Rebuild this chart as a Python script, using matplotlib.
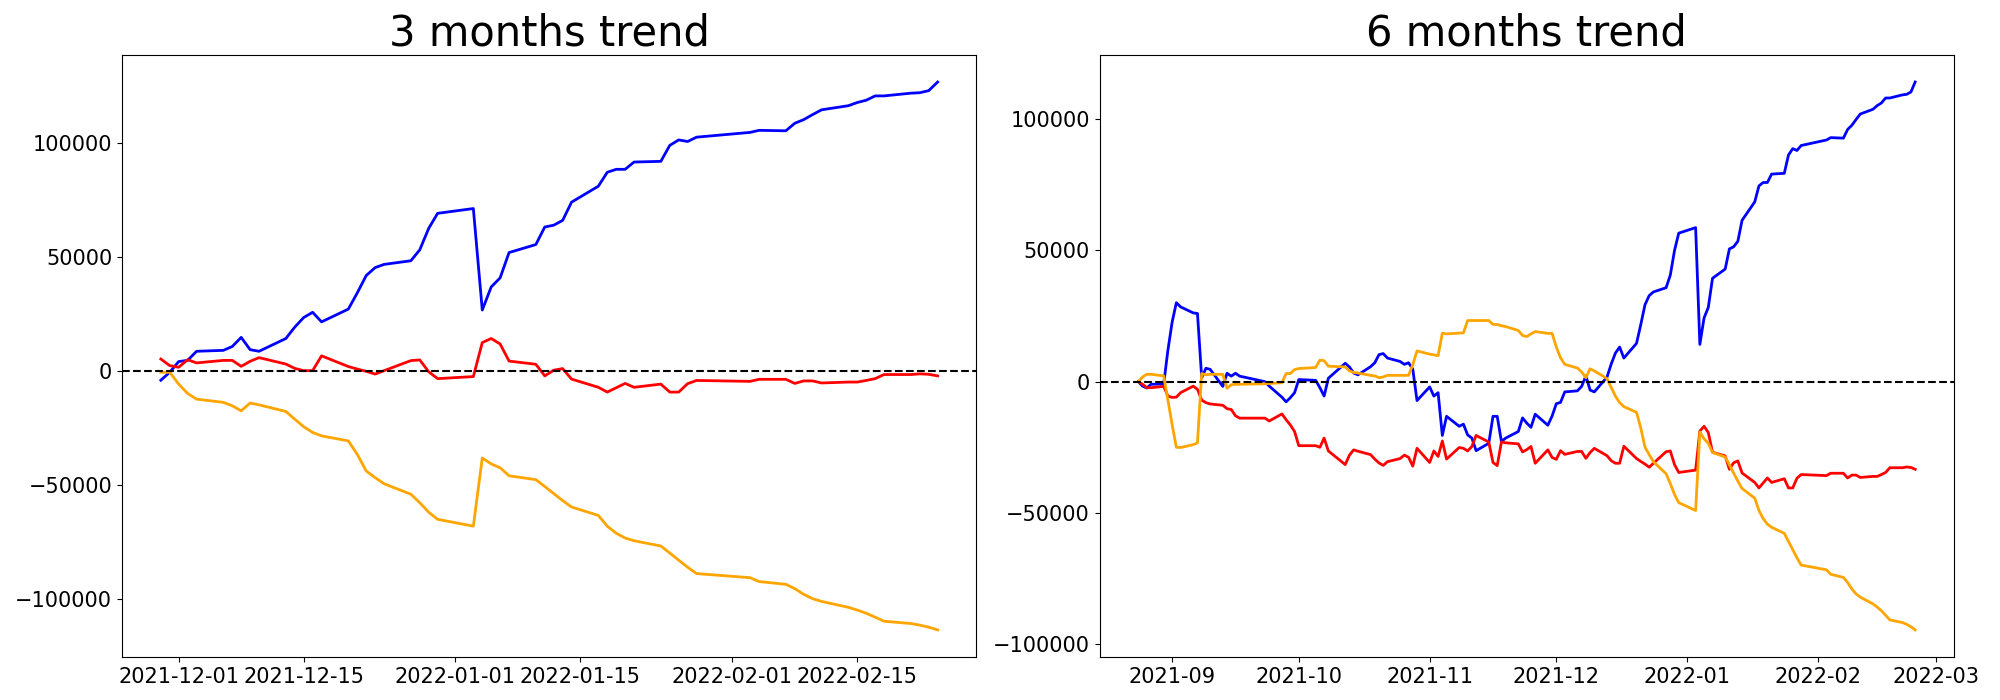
import pandas as pd
import matplotlib
matplotlib.use("Agg")
import matplotlib.pyplot as plt

# 3 months: trading days and cumulative values
dates_3m = [
    "2021-11-29", "2021-11-30", "2021-12-01", "2021-12-02", "2021-12-03",
    "2021-12-06", "2021-12-07", "2021-12-08", "2021-12-09", "2021-12-10",
    "2021-12-13", "2021-12-14", "2021-12-15", "2021-12-16", "2021-12-17",
    "2021-12-20", "2021-12-21", "2021-12-22", "2021-12-23", "2021-12-24",
    "2021-12-27", "2021-12-28", "2021-12-29", "2021-12-30",
    "2022-01-03", "2022-01-04", "2022-01-05", "2022-01-06", "2022-01-07",
    "2022-01-10", "2022-01-11", "2022-01-12", "2022-01-13", "2022-01-14",
    "2022-01-17", "2022-01-18", "2022-01-19", "2022-01-20", "2022-01-21",
    "2022-01-24", "2022-01-25", "2022-01-26", "2022-01-27", "2022-01-28",
    "2022-02-03", "2022-02-04",
    "2022-02-07", "2022-02-08", "2022-02-09", "2022-02-10", "2022-02-11",
    "2022-02-14", "2022-02-15", "2022-02-16", "2022-02-17", "2022-02-18",
    "2022-02-21", "2022-02-22", "2022-02-23", "2022-02-24",
]
blue_3m = [
    -4200, -700, 4000, 4500, 8500,
    8900, 10600, 14600, 9200, 8500,
    14100, 19100, 23300, 25600, 21400,
    27000, 34100, 41700, 45200, 46600,
    48200, 53000, 62400, 69000,
    71100, 26600, 36700, 40700, 51800,
    55300, 63000, 63800, 65900, 73900,
    80900, 87000, 88300, 88300, 91500,
    91800, 98800, 101200, 100500, 102400,
    104500, 105400,
    105200, 108500, 110100, 112300, 114400,
    116200, 117600, 118600, 120500, 120500,
    121700, 121900, 122800, 126600,
]
red_3m = [
    5100, 2200, 1500, 4800, 3400,
    4500, 4500, 1900, 4100, 5700,
    2900, 1000, 0, 0, 6500,
    1800, 700, -300, -1500, 0,
    4400, 4700, -500, -3500,
    -2600, 12300, 14100, 11700, 4200,
    2800, -2300, 200, 900, -3700,
    -7300, -9400, -7500, -5600, -7300,
    -5900, -9400, -9400, -5700, -4300,
    -4700, -3800,
    -3800, -5600, -4500, -4500, -5400,
    -5000, -5000, -4300, -3500, -1700,
    -1700, -1400, -1600, -2300,
]
orange_3m = [
    -700, -700, -5900, -10000, -12500,
    -13900, -15400, -17600, -14200, -15000,
    -17900, -21300, -24600, -27100, -28600,
    -30800, -36700, -44000, -46900, -49600,
    -54200, -57900, -62100, -65200,
    -68200, -38300, -40900, -42600, -46100,
    -47800, -50800, -53900, -57000, -59800,
    -63500, -68200, -71300, -73400, -74600,
    -76900, -80000, -83100, -86200, -89000,
    -90800, -92500,
    -93700, -95600, -98100, -100000, -101200,
    -103800, -105000, -106400, -108100, -109900,
    -110900, -111600, -112500, -113700,
]

# 6 months: trading days and cumulative values
dates_6m = [
    "2021-08-24", "2021-08-25", "2021-08-26", "2021-08-27",
    "2021-08-30", "2021-08-31", "2021-09-01", "2021-09-02", "2021-09-03",
    "2021-09-06", "2021-09-07", "2021-09-08", "2021-09-09", "2021-09-10",
    "2021-09-13", "2021-09-14", "2021-09-15", "2021-09-16", "2021-09-17",
    "2021-09-23", "2021-09-24",
    "2021-09-27", "2021-09-28", "2021-09-29", "2021-09-30", "2021-10-01",
    "2021-10-05", "2021-10-06", "2021-10-07", "2021-10-08",
    "2021-10-12", "2021-10-13", "2021-10-14", "2021-10-15",
    "2021-10-18", "2021-10-19", "2021-10-20", "2021-10-21", "2021-10-22",
    "2021-10-25", "2021-10-26", "2021-10-27", "2021-10-28", "2021-10-29",
    "2021-11-01", "2021-11-02", "2021-11-03", "2021-11-04", "2021-11-05",
    "2021-11-08", "2021-11-09", "2021-11-10", "2021-11-11", "2021-11-12",
    "2021-11-15", "2021-11-16", "2021-11-17", "2021-11-18", "2021-11-19",
    "2021-11-22", "2021-11-23", "2021-11-24", "2021-11-25", "2021-11-26",
] + dates_3m
blue_6m = [
    0, -1700, -2400, -1000,
    -900, 12000, 22700, 30100, 28500,
    26200, 26000, 1500, 5100, 4700,
    -1800, 3200, 2100, 3200, 2100,
    0, -1700,
    -5900, -7700, -6100, -4200, 800,
    500, -2300, -5500, 1300,
    7000, 5600, 3300, 2600,
    5700, 7200, 10300, 10700, 9000,
    7700, 6600, 7200, 4800, -7200,
    -2000, -5500, -4200, -20500, -13200,
    -17000, -16200, -20300, -21500, -26300,
    -23500, -13200, -13200, -22800, -21500,
    -19000, -13800, -15800, -17400, -12400,
    -16600, -13100, -8400, -7900, -3900,
    -3500, -1800, 2200, -3200, -3900,
    1700, 6700, 10900, 13200, 9000,
    14600, 21700, 29300, 32800, 34200,
    35800, 40600, 50000, 56600,
    58700, 14200, 24300, 28300, 39400,
    42900, 50600, 51400, 53500, 61500,
    68500, 74600, 75900, 75900, 79100,
    79400, 86400, 88800, 88100, 90000,
    92100, 93000,
    92800, 96100, 97700, 99900, 102000,
    103800, 105200, 106200, 108100, 108100,
    109300, 109500, 110400, 114200,
]
red_6m = [
    0, -1000, -2300, -2300,
    -1800, -5500, -6000, -5900, -4200,
    -1700, -2900, -7000, -8000, -8500,
    -9000, -10300, -10600, -13000, -13900,
    -13900, -15000,
    -12300, -14500, -16500, -19000, -24400,
    -24400, -25000, -21500, -26400,
    -31600, -28000, -26000, -26500,
    -27800, -29500, -31000, -31900, -30500,
    -29300, -28000, -28800, -32200, -25400,
    -30800, -26400, -28500, -22600, -29500,
    -25100, -25400, -26400, -24700, -20500,
    -23000, -30800, -32000, -23000, -23300,
    -23700, -26800, -25900, -24700, -31100,
    -26000, -28900, -29600, -26300, -27700,
    -26600, -26600, -29200, -27000, -25400,
    -28200, -30100, -31100, -31100, -24600,
    -29300, -30400, -31400, -32600, -31100,
    -26700, -26400, -31600, -34600,
    -33700, -18800, -17000, -19400, -26900,
    -28300, -33400, -30900, -30200, -34800,
    -38400, -40500, -38600, -36700, -38400,
    -37000, -40500, -40500, -36800, -35400,
    -35800, -34900,
    -34900, -36700, -35600, -35600, -36500,
    -36100, -36100, -35400, -34600, -32800,
    -32800, -32500, -32700, -33400,
]
orange_6m = [
    0, 1800, 2800, 2800,
    2200, -7000, -16400, -25000, -25100,
    -24000, -23300, 3100, 2600, 2800,
    2800, -2500, -1200, -1000, -1000,
    -800, -700,
    -400, 3100, 3100, 4600, 5000,
    5400, 8200, 8000, 5900,
    5600, 4100, 3500, 3300,
    2400, 2200, 1500, 1800, 2400,
    2400, 2400, 2400, 6500, 11700,
    10500, 10200, 9900, 18500, 18200,
    18500, 18600, 23300, 23300, 23300,
    23300, 21800, 21800, 21300, 21000,
    19500, 17600, 17200, 18200, 19100,
    18400, 18400, 13200, 9100, 6600,
    5200, 3700, 1500, 4900, 4100,
    1200, -2200, -5500, -8000, -9500,
    -11700, -17600, -24900, -27800, -30500,
    -35100, -38800, -43000, -46100,
    -49100, -19200, -21800, -23500, -27000,
    -28700, -31700, -34800, -37900, -40700,
    -44400, -49100, -52200, -54300, -55500,
    -57800, -60900, -64000, -67100, -69900,
    -71700, -73400,
    -74600, -76500, -79000, -80900, -82100,
    -84700, -85900, -87300, -89000, -90800,
    -91800, -92500, -93400, -94600,
]

panels = [
    ("3 months trend", dates_3m, blue_3m, red_3m, orange_3m),
    ("6 months trend", dates_6m, blue_6m, red_6m, orange_6m),
]

fig, axes = plt.subplots(1, 2, figsize=(20, 7), dpi=100)
fig.subplots_adjust(left=0.061, right=0.977, top=0.922, bottom=0.061, wspace=0.144)

for ax, (title, dates, blue, red, orange) in zip(axes, panels):
    x = pd.to_datetime(dates)
    ax.plot(x, blue, color="blue", linewidth=2)
    ax.plot(x, red, color="red", linewidth=2)
    ax.plot(x, orange, color="orange", linewidth=2)
    ax.axhline(0, color="black", linestyle="--", linewidth=1.5)
    ax.set_title(title, fontsize=30)
    ax.tick_params(labelsize=15)

plt.savefig("out.png")
